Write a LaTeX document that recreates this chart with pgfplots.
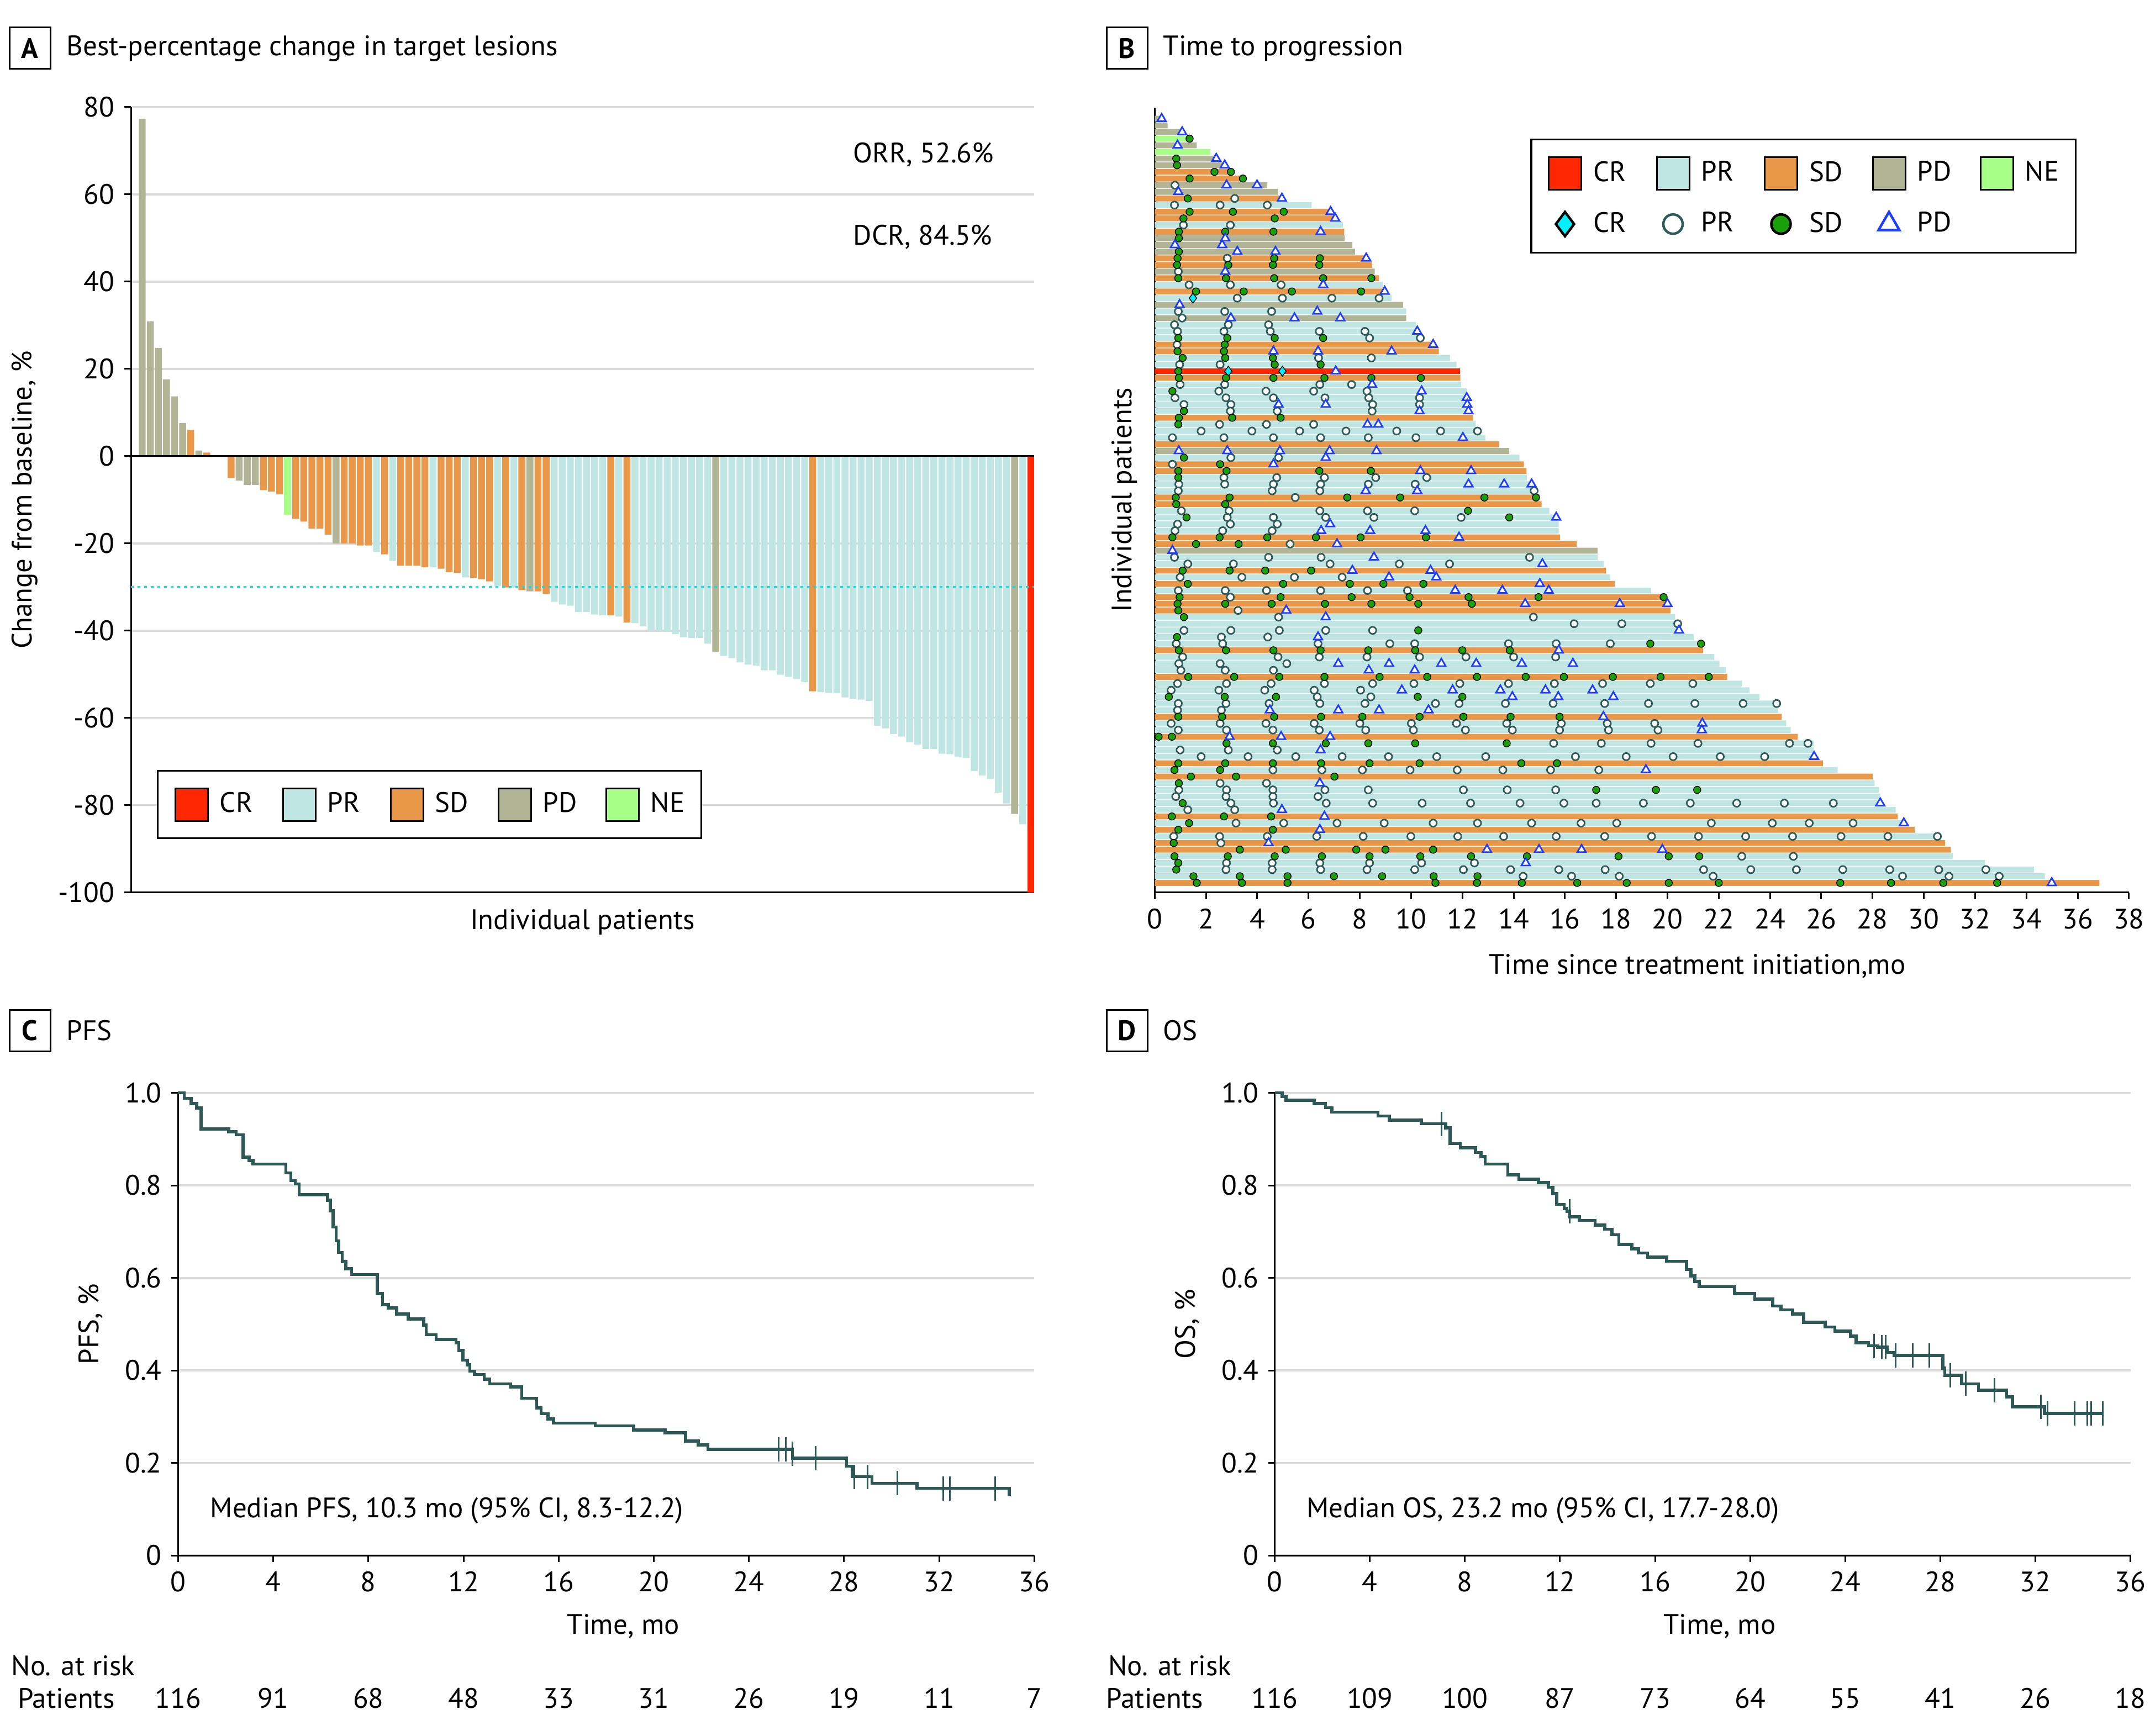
\documentclass[border=0pt]{standalone}
\usepackage{fontspec}
\setmainfont{PT Sans}
\usepackage{pgfplots}
\pgfplotsset{compat=1.18}

\definecolor{crc}{RGB}{255,38,0}
\definecolor{prc}{RGB}{192,230,228}
\definecolor{sdc}{RGB}{232,152,72}
\definecolor{pdc}{RGB}{178,180,150}
\definecolor{nec}{RGB}{168,255,136}
\definecolor{gridc}{RGB}{217,217,217}
\definecolor{kmc}{RGB}{44,88,86}
\definecolor{prm}{RGB}{47,90,90}
\definecolor{sdm}{RGB}{26,160,10}
\definecolor{pdm}{RGB}{30,60,255}
\definecolor{crm}{RGB}{0,240,255}
\definecolor{refc}{RGB}{0,225,230}

\newcommand{\lgt}[1]{\makebox[13.3mm][l]{\hspace{2mm}#1}}

\pgfplotsset{
  base/.style={scale only axis, anchor=south west,
    /pgf/number format/assume math mode=true,
    axis line style={line width=0.3mm, black},
    tick style={line width=0.3mm, black},
    major tick length=1.2mm, tick align=outside,
    grid style={gridc, line width=0.35mm}},
  swatch/.style={legend image code/.code={
    \draw[##1, draw=black, line width=0.3mm] (0mm,-2.95mm) rectangle (5.9mm,2.95mm);}},
  markimg/.style={legend image code/.code={
    \path (0mm,0mm) (5.9mm,0mm);
    \draw[##1, mark size=#1, every mark/.append style={line width=0.45mm}] plot coordinates {(2.95mm,0mm)};}},
  abar/.style={ybar, bar width=0.85, bar shift=0pt, draw=none},
  bbar/.style={xbar, bar width=0.88, bar shift=0pt, draw=none},
}

\begin{document}
\fontsize{14.5}{17}\selectfont
\begin{tikzpicture}
\path[use as bounding box] (0,0) rectangle (389.2mm,314.2mm);

% panel headers
\node[draw, line width=0.3mm, minimum width=7.4mm, minimum height=7.5mm, inner sep=0pt, font=\bfseries] at (5.4mm,305.45mm) {A};
\node[anchor=west, inner sep=0pt] at (12.0mm,305.45mm) {Best-percentage change in target lesions};
\node[draw, line width=0.3mm, minimum width=7.4mm, minimum height=7.5mm, inner sep=0pt, font=\bfseries] at (204.0mm,305.45mm) {B};
\node[anchor=west, inner sep=0pt] at (210.5mm,305.45mm) {Time to progression};
\node[draw, line width=0.3mm, minimum width=7.4mm, minimum height=7.5mm, inner sep=0pt, font=\bfseries] at (5.4mm,127.6mm) {C};
\node[anchor=west, inner sep=0pt] at (12.0mm,127.6mm) {PFS};
\node[draw, line width=0.3mm, minimum width=7.4mm, minimum height=7.5mm, inner sep=0pt, font=\bfseries] at (204.0mm,127.6mm) {D};
\node[anchor=west, inner sep=0pt] at (210.5mm,127.6mm) {OS};

% ---------------- A: waterfall ----------------
\begin{axis}[base, at={(23.7mm,152.63mm)}, width=163.5mm, height=142.18mm,
  xmin=-0.4, xmax=111.42, ymin=-100, ymax=80,
  axis x line*=bottom, axis y line*=left,
  xtick=\empty, ytick={-100,-80,-60,-40,-20,0,20,40,60,80},
  yticklabels={-100,-80,-60,-40,-20,0,20,40,60,80},
  ymajorgrids,
  ylabel={Change from baseline, \%},
  ylabel style={at={(axis description cs:-0.1174,0.5)}, anchor=center},
  xlabel={Individual patients},
  xlabel style={at={(axis description cs:0.5,-0.038)}, anchor=center},
  legend columns=5, legend cell align=left,
  legend style={at={(axis description cs:0.029,0.068)}, anchor=south west,
    draw=black, line width=0.3mm, inner sep=3mm, nodes={inner sep=0pt}},
  clip=false]
\addplot[abar, fill=crc, swatch] coordinates {(111,-100)};
\addlegendentry{\lgt{CR}}
\addplot[abar, fill=prc, swatch] coordinates {
(30,-21.9) (32,-24.0) (37,-25.5) (41,-27.8) (45,-29.8) (47,-30.1) (52,-33.4) (53,-34.0)
(54,-34.3) (55,-35.7) (56,-35.7) (57,-36.3) (58,-36.5) (60,-36.8) (62,-38.3) (63,-39.0)
(64,-40.1) (65,-40.1) (66,-40.3) (67,-40.8) (68,-41.5) (69,-41.7) (70,-41.7) (71,-43.0)
(73,-45.8) (74,-46.3) (75,-47.3) (76,-47.8) (77,-48.0) (78,-49.1) (79,-49.1) (80,-50.1)
(81,-50.6) (82,-51.1) (83,-51.8) (85,-54.1) (86,-54.3) (87,-54.3) (88,-55.3) (89,-55.6)
(90,-55.8) (91,-56.1) (92,-61.8) (93,-62.4) (94,-63.7) (95,-64.3) (96,-65.6) (97,-66.1)
(98,-67.1) (99,-67.1) (100,-68.2) (101,-68.3) (102,-69.0) (103,-69.2) (104,-72.2)
(105,-73.2) (106,-74.0) (107,-77.1) (108,-79.6) (110,-84.4)};
\addlegendentry{\lgt{PR}}
\addplot[abar, fill=sdc, swatch] coordinates {
(7,6.0) (9,0.8) (12,-5.0) (16,-7.8) (17,-8.1) (18,-8.7) (20,-14.3) (21,-15.0) (22,-16.6)
(23,-16.6) (24,-18.0) (26,-20.0) (27,-20.0) (28,-20.5) (29,-20.5) (31,-22.5) (33,-25.1)
(34,-25.1) (35,-25.1) (36,-25.5) (38,-25.8) (39,-26.6) (40,-26.8) (42,-27.9) (43,-28.2)
(44,-28.7) (46,-30.1) (48,-30.7) (50,-31.0) (51,-31.6) (59,-36.5) (61,-38.1) (84,-53.9)};
\addlegendentry{\lgt{SD}}
\addplot[abar, fill=pdc, swatch] coordinates {
(1,77.3) (2,30.9) (3,24.8) (4,17.6) (5,13.7) (6,7.6) (8,1.3) (13,-5.6) (14,-6.6)
(15,-6.6) (25,-20.0) (49,-31.0) (72,-44.9) (109,-82.0)};
\addlegendentry{\lgt{PD}}
\addplot[abar, fill=nec, swatch] coordinates {(19,-13.4)};
\addlegendentry{\hspace{2mm}NE}
\addplot[black, line width=0.3mm, forget plot] coordinates {(-0.4,0) (111.42,0)};
\addplot[refc, line width=0.3mm, dash pattern=on 0.5mm off 0.7mm, forget plot] coordinates {(-0.4,-30) (111.42,-30)};
\node[anchor=west, inner sep=0pt] at (axis cs:89.0,69.1) {ORR, 52.6\%};
\node[anchor=west, inner sep=0pt] at (axis cs:89.0,50.2) {DCR, 84.5\%};
\end{axis}

% ---------------- B: swimmer plot ----------------
\begin{axis}[base, at={(209.03mm,152.63mm)}, width=176.35mm, height=142.07mm,
  xmin=0, xmax=38, ymin=-117.43, ymax=0.66,
  axis x line*=bottom, axis y line*=left,
  ytick=\empty, xtick={0,2,...,38},
  ylabel={Individual patients},
  ylabel style={at={(axis description cs:-0.0312,0.5)}, anchor=center},
  xlabel={Time since treatment initiation,mo},
  xlabel style={at={(axis description cs:0.557,-0.0943)}, anchor=center},
  legend columns=5, legend cell align=left,
  legend style={at={(axis description cs:0.3854,0.9606)}, anchor=north west,
    draw=black, line width=0.35mm, inner sep=3mm, row sep=3.9mm, nodes={inner sep=0pt}},
  clip=false]
\addplot[bbar, fill=crc, swatch] coordinates {(11.90,-39)};
\addlegendentry{\lgt{CR}}
\addplot[bbar, fill=prc, swatch] coordinates {
(6.12,-14) (7.34,-17) (8.90,-26) (9.24,-28) (9.81,-30) (10.19,-32) (10.31,-33) (10.48,-34)
(11.52,-37) (11.77,-38) (11.95,-41) (12.17,-42) (12.17,-43) (12.17,-44) (12.29,-45)
(12.52,-47) (12.71,-48) (12.89,-49) (14.23,-52) (14.52,-55) (14.65,-56) (14.77,-57)
(15.39,-60) (15.64,-61) (15.76,-62) (15.76,-63) (17.27,-67) (17.52,-68) (17.77,-70)
(19.36,-72) (20.30,-76) (20.40,-77) (20.47,-78) (21.02,-79) (21.34,-80) (21.83,-82)
(22.03,-83) (22.28,-84) (22.90,-86) (23.20,-87) (23.59,-88) (24.36,-89) (24.31,-90)
(24.63,-92) (24.81,-93) (25.70,-95) (25.70,-96) (25.75,-97) (26.64,-99) (28.08,-101)
(28.25,-102) (28.30,-103) (28.30,-104) (28.90,-105) (29.27,-107) (30.61,-109)
(31.13,-112) (32.39,-113) (34.30,-114) (34.72,-115)};
\addlegendentry{\lgt{PR}}
\addplot[bbar, fill=sdc, swatch] coordinates {
(3.02,-9) (3.52,-10) (5.03,-13) (6.89,-15) (7.14,-16) (7.39,-18) (8.28,-22) (8.48,-23)
(8.75,-25) (9.00,-27) (10.86,-35) (11.08,-36) (11.92,-40) (12.42,-46) (13.43,-50)
(14.40,-53) (14.50,-54) (15.02,-58) (15.09,-59) (15.81,-64) (16.46,-65) (17.60,-69)
(17.94,-71) (19.85,-73) (20.00,-74) (20.12,-75) (21.39,-81) (22.33,-85) (24.46,-91)
(25.08,-94) (26.07,-98) (28.00,-100) (28.97,-106) (29.64,-108) (30.83,-110)
(31.05,-111) (36.85,-116)};
\addlegendentry{\lgt{SD}}
\addplot[bbar, fill=pdc, swatch] coordinates {
(0.27,-1) (0.50,-2) (1.07,-3) (1.64,-5) (2.43,-7) (2.78,-8) (4.39,-11) (4.81,-12)
(7.41,-19) (7.71,-20) (7.81,-21) (8.58,-24) (9.69,-29) (9.81,-31) (13.83,-51) (17.27,-66)};
\addlegendentry{\lgt{PD}}
\addplot[bbar, fill=nec, swatch] coordinates {(1.31,-4) (2.16,-6)};
\addlegendentry{\hspace{2mm}NE}
% assessment markers
\addplot[only marks, mark=diamond*, mark size=0.9mm, mark options={draw=none, fill=crm}, markimg=2.2mm]
coordinates {(1.49,-28) (2.87,-39) (4.98,-39)};
\addlegendentry{\lgt{CR}}
\addplot[only marks, mark=*, mark size=0.65mm, mark options={draw=prm, fill=white, line width=0.28mm}, markimg=1.75mm]
coordinates {
(0.79,-11) (3.12,-13) (0.77,-14) (2.55,-14) (4.39,-14) (1.12,-17) (2.95,-17) (2.83,-22)
(0.92,-24) (1.34,-26) (2.95,-26) (4.93,-26) (3.22,-28) (4.98,-28) (6.91,-28) (8.75,-28)
(0.92,-30) (2.73,-30) (4.56,-30) (1.07,-31) (0.77,-32) (2.87,-32) (4.44,-32)
(0.89,-33) (2.70,-33) (4.51,-33) (6.42,-33) (8.20,-33) (8.38,-34) (10.36,-34) (0.87,-35)
(6.39,-37) (8.45,-37) (0.97,-38) (2.55,-38) (0.99,-41) (2.73,-41) (6.44,-41) (7.68,-41)
(2.50,-42) (4.34,-42) (6.20,-42) (8.28,-42) (0.79,-43) (2.78,-43) (4.63,-43) (6.64,-43)
(8.35,-43) (10.33,-43) (1.14,-44) (2.97,-44) (8.50,-44) (10.33,-44) (2.95,-45) (4.78,-45)
(8.48,-45) (2.53,-47) (4.36,-47) (6.20,-47) (1.81,-48) (3.79,-48) (5.65,-48) (7.46,-48)
(9.44,-48) (11.15,-48) (12.59,-48) (0.69,-49) (2.70,-49) (4.63,-49) (6.47,-49) (8.33,-49)
(10.19,-49) (2.97,-52) (4.83,-52) (0.69,-53) (2.70,-55) (4.76,-55) (6.62,-55) (8.62,-55)
(10.61,-55) (0.94,-56) (2.73,-56) (4.63,-56) (6.47,-56) (8.33,-56) (10.16,-56)
(0.92,-57) (4.58,-57) (6.44,-57) (14.80,-57) (5.48,-58) (1.04,-60) (2.90,-60) (6.44,-60)
(8.30,-60) (10.14,-60) (2.83,-61) (4.63,-61) (6.67,-61) (8.55,-61) (11.95,-61)
(0.89,-62) (2.95,-62) (4.78,-62) (0.79,-63) (2.65,-63) (4.58,-63) (5.28,-65)
(0.77,-67) (4.44,-67) (6.49,-67) (14.62,-67) (1.29,-68) (3.07,-68) (6.84,-68) (9.54,-68)
(11.50,-68) (0.99,-70) (3.40,-70) (5.45,-70) (7.31,-70) (0.92,-72) (2.75,-72) (4.36,-72)
(6.47,-72) (8.30,-72) (9.86,-72) (2.95,-73) (3.25,-75) (4.83,-76) (14.77,-76)
(16.36,-77) (18.22,-77) (20.40,-77) (1.14,-78) (2.97,-78) (4.86,-78) (6.67,-78) (8.50,-78)
(2.60,-79) (4.41,-79) (0.84,-80) (2.65,-80) (6.37,-80) (9.17,-80) (10.14,-80) (13.80,-80)
(15.66,-80) (17.77,-80) (1.09,-82) (4.81,-82) (6.42,-82) (8.28,-82) (10.33,-82)
(12.14,-82) (14.00,-82) (15.64,-82) (0.94,-83) (2.55,-83) (5.15,-83) (1.02,-84)
(2.75,-84) (4.63,-84) (0.89,-86) (2.80,-86) (4.54,-86) (6.62,-86) (8.50,-86) (10.11,-86)
(11.90,-86) (13.80,-86) (15.59,-86) (17.47,-86) (19.33,-86) (20.99,-86) (0.64,-87)
(2.50,-87) (4.29,-87) (6.22,-87) (8.03,-87) (6.34,-88) (8.43,-88) (0.92,-89) (2.78,-89)
(4.46,-89) (6.44,-89) (8.20,-89) (10.95,-89) (11.87,-89) (13.68,-89) (15.54,-89)
(17.55,-89) (19.26,-89) (21.07,-89) (22.95,-89) (24.26,-89) (0.89,-90) (2.60,-90)
(0.64,-92) (2.55,-92) (4.34,-92) (6.22,-92) (8.00,-92) (10.01,-92) (11.77,-92)
(13.73,-92) (15.86,-92) (17.65,-92) (19.50,-92) (0.92,-93) (2.80,-93) (4.61,-93)
(6.42,-93) (8.23,-93) (10.09,-93) (12.12,-93) (13.95,-93) (15.79,-93) (17.70,-93)
(19.63,-93) (15.56,-95) (17.42,-95) (19.36,-95) (21.19,-95) (24.76,-95) (25.48,-95)
(0.99,-96) (2.87,-96) (4.78,-96) (1.81,-97) (3.64,-97) (5.50,-97) (7.31,-97) (9.12,-97)
(11.00,-97) (12.91,-97) (16.41,-97) (18.39,-97) (20.22,-97) (22.06,-97) (23.79,-97)
(4.61,-99) (6.52,-99) (8.10,-99) (9.96,-99) (11.80,-99) (13.58,-99) (15.44,-99)
(17.32,-99) (2.55,-101) (4.36,-101) (0.94,-102) (2.80,-102) (4.61,-102) (6.64,-102)
(8.33,-102) (12.04,-102) (13.75,-102) (15.64,-102) (0.82,-103) (2.78,-103) (4.61,-103)
(6.37,-103) (2.97,-104) (4.63,-104) (6.69,-104) (8.50,-104) (10.43,-104) (12.32,-104)
(14.25,-104) (15.96,-104) (17.22,-104) (19.06,-104) (20.89,-104) (22.70,-104)
(24.56,-104) (26.47,-104) (1.29,-105) (3.12,-105) (3.17,-107) (5.03,-107) (7.11,-107)
(8.95,-107) (10.86,-107) (12.59,-107) (14.70,-107) (16.63,-107) (18.02,-107)
(21.71,-107) (24.09,-107) (25.53,-107) (27.24,-107) (0.74,-109) (2.53,-109) (4.39,-109)
(6.32,-109) (8.13,-109) (9.99,-109) (11.82,-109) (13.61,-109) (15.66,-109) (17.55,-109)
(19.38,-109) (21.21,-109) (23.05,-109) (24.88,-109) (26.77,-109) (28.60,-109)
(30.53,-109) (2.58,-110) (22.90,-112) (24.91,-112) (2.80,-113) (4.58,-113) (6.44,-113)
(8.38,-113) (10.41,-113) (12.47,-113) (2.78,-114) (4.58,-114) (6.47,-114) (8.28,-114)
(10.14,-114) (12.04,-114) (13.88,-114) (15.76,-114) (17.57,-114) (21.41,-114)
(23.25,-114) (25.03,-114) (26.84,-114) (28.67,-114) (30.58,-114) (32.42,-114)
(14.37,-115) (16.26,-115) (18.12,-115) (21.78,-115) (29.17,-115) (30.98,-115) (32.94,-115)};
\addlegendentry{\lgt{PR}}
\addplot[only marks, mark=*, mark size=0.65mm, mark options={draw=none, fill=sdm}, markimg=1.75mm]
coordinates {
(1.36,-4) (0.84,-7) (0.87,-8) (2.33,-9) (2.97,-9) (1.36,-10) (3.44,-10) (1.29,-13)
(1.36,-15) (3.05,-15) (5.03,-15) (1.12,-16) (4.68,-16) (0.94,-18) (2.75,-18) (4.63,-18)
(0.94,-19) (0.94,-21) (0.89,-22) (4.66,-22) (6.44,-22) (0.87,-23) (2.87,-23) (4.61,-23)
(6.42,-23) (0.92,-25) (2.78,-25) (4.66,-25) (6.57,-25) (8.45,-25) (1.61,-27) (3.47,-27)
(5.35,-27) (8.05,-27) (0.92,-34) (2.83,-34) (4.68,-34) (6.57,-34) (2.73,-35) (0.89,-36)
(2.70,-36) (1.09,-37) (2.75,-37) (4.61,-37) (4.68,-38) (6.47,-38) (0.92,-39) (0.94,-40)
(2.78,-40) (4.63,-40) (6.62,-40) (8.45,-40) (10.38,-40) (0.69,-42) (1.14,-45) (0.94,-46)
(3.02,-46) (4.91,-46) (0.92,-47) (1.14,-52) (2.55,-53) (0.92,-54) (2.80,-54) (6.42,-54)
(8.43,-54) (0.92,-55) (0.82,-58) (2.92,-58) (7.51,-58) (9.57,-58) (12.86,-58) (14.87,-58)
(0.84,-59) (2.75,-59) (12.22,-60) (1.24,-61) (13.83,-61) (0.69,-64) (2.53,-64) (4.39,-64)
(6.29,-64) (8.03,-64) (10.58,-64) (1.61,-65) (3.27,-65) (1.09,-69) (2.92,-69) (4.31,-69)
(6.10,-69) (1.29,-71) (5.01,-71) (7.61,-71) (8.92,-71) (10.48,-71) (0.97,-73) (4.91,-73)
(7.68,-73) (9.94,-73) (12.24,-73) (14.97,-73) (19.85,-73) (0.89,-74) (2.75,-74) (4.56,-74)
(6.64,-74) (8.45,-74) (10.28,-74) (12.37,-74) (0.92,-75) (1.14,-76) (10.28,-78) (0.87,-79)
(19.33,-80) (21.31,-80) (0.94,-81) (2.78,-81) (4.63,-81) (6.47,-81) (8.33,-81) (10.16,-81)
(12.00,-81) (13.85,-81) (1.31,-85) (3.10,-85) (4.86,-85) (6.62,-85) (8.77,-85) (10.63,-85)
(12.57,-85) (14.47,-85) (15.96,-85) (17.87,-85) (19.73,-85) (21.61,-85) (0.55,-88)
(2.73,-88) (4.73,-88) (10.26,-88) (12.00,-88) (0.92,-91) (2.63,-91) (4.66,-91) (6.49,-91)
(8.10,-91) (10.33,-91) (12.04,-91) (13.88,-91) (15.79,-91) (0.15,-94) (0.67,-94)
(2.80,-95) (4.61,-95) (6.67,-95) (8.33,-95) (10.16,-95) (13.73,-95) (0.92,-98) (2.75,-98)
(4.61,-98) (6.49,-98) (8.38,-98) (10.33,-98) (14.30,-98) (15.69,-98) (0.77,-99) (2.55,-99)
(1.41,-100) (3.17,-100) (7.01,-100) (0.94,-101) (17.22,-102) (19.55,-102) (21.16,-102)
(1.09,-104) (0.67,-106) (2.70,-106) (4.54,-106) (1.34,-107) (0.92,-108) (4.61,-108)
(0.74,-110) (3.32,-111) (5.11,-111) (7.86,-111) (9.00,-111) (10.86,-111) (0.77,-112)
(2.85,-112) (4.68,-112) (6.52,-112) (8.38,-112) (10.36,-112) (12.34,-112) (14.52,-112)
(18.09,-112) (20.05,-112) (21.24,-112) (0.92,-113) (0.84,-114) (1.51,-115) (3.32,-115)
(5.18,-115) (6.99,-115) (8.87,-115) (10.88,-115) (12.59,-115) (1.64,-116) (3.40,-116)
(5.18,-116) (10.95,-116) (12.57,-116) (14.32,-116) (16.48,-116) (18.41,-116) (20.05,-116)
(22.00,-116) (26.74,-116) (28.72,-116) (30.76,-116) (32.86,-116)};
\addlegendentry{\lgt{SD}}
\addplot[only marks, mark=triangle*, mark size=0.9mm, mark options={draw=pdm, fill=white, line width=0.28mm}, markimg=2.2mm]
coordinates {
(0.27,-1) (1.07,-3) (0.89,-5) (2.40,-7) (2.73,-8) (2.80,-11) (3.99,-11) (0.92,-12)
(4.96,-13) (6.86,-15) (7.04,-16) (6.47,-18) (2.75,-19) (0.79,-20) (2.63,-20) (3.22,-21)
(4.71,-21) (8.25,-22) (2.75,-24) (6.57,-26) (8.97,-27) (0.97,-29) (6.34,-30) (2.97,-31)
(5.45,-31) (7.24,-31) (10.24,-33) (10.86,-35) (4.63,-36) (6.37,-36) (9.24,-36) (7.06,-39)
(8.48,-41) (10.41,-42) (12.17,-43) (4.83,-44) (6.67,-44) (12.19,-44) (10.33,-45)
(12.24,-45) (8.30,-47) (8.72,-47) (12.02,-49) (0.94,-51) (2.83,-51) (4.88,-51) (6.82,-51)
(8.65,-51) (6.67,-52) (4.63,-53) (10.36,-54) (12.34,-54) (12.24,-56) (13.63,-56)
(14.70,-56) (8.23,-57) (10.24,-57) (15.66,-61) (6.84,-62) (6.49,-63) (8.40,-63)
(10.56,-63) (11.87,-64) (7.11,-65) (0.69,-66) (8.55,-67) (15.12,-68) (7.71,-69)
(10.76,-69) (9.14,-70) (10.98,-70) (15.02,-71) (11.72,-72) (13.56,-72) (15.37,-72)
(14.45,-74) (18.14,-74) (20.00,-74) (5.13,-75) (6.67,-76) (20.45,-78) (6.37,-79)
(15.76,-81) (7.16,-83) (9.14,-83) (11.18,-83) (12.54,-83) (14.32,-83) (16.31,-83)
(8.35,-84) (10.14,-84) (9.64,-87) (11.62,-87) (13.48,-87) (15.24,-87) (17.08,-87)
(13.95,-88) (15.74,-88) (17.89,-88) (4.49,-90) (7.16,-90) (8.75,-90) (10.68,-90)
(17.50,-91) (21.36,-92) (21.34,-93) (2.92,-94) (4.93,-94) (6.84,-94) (6.47,-96)
(25.72,-97) (19.16,-99) (6.44,-101) (28.30,-104) (4.96,-105) (6.62,-106) (29.22,-107)
(6.44,-108) (4.44,-110) (12.96,-111) (14.99,-111) (16.65,-111) (19.80,-111) (14.47,-113)
(34.99,-116)};
\addlegendentry{\lgt{PD}}
\end{axis}

% ---------------- C: PFS ----------------
\begin{axis}[base, at={(32.24mm,32.6mm)}, width=155mm, height=83.75mm,
  xmin=0, xmax=36, ymin=0, ymax=1,
  axis x line*=bottom, axis y line*=left,
  xtick={0,4,...,36}, ytick={0,0.2,0.4,0.6,0.8,1}, yticklabels={0,0.2,0.4,0.6,0.8,1.0},
  ymajorgrids,
  ylabel={PFS, \%},
  ylabel style={at={(axis description cs:-0.1019,0.5)}, anchor=center},
  xlabel={Time, mo},
  xlabel style={at={(axis description cs:0.52,-0.1528)}, anchor=center},
  clip=false]
\addplot[const plot, kmc, line width=0.55mm] coordinates {
(0,1.0) (0.26,0.988) (0.55,0.977) (0.78,0.967) (0.97,0.922) (2.13,0.916) (2.44,0.909)
(2.73,0.861) (2.99,0.854) (3.15,0.846) (4.53,0.827) (4.74,0.81) (4.93,0.803) (5.09,0.78)
(6.28,0.768) (6.40,0.745) (6.52,0.71) (6.64,0.68) (6.75,0.655) (6.90,0.635) (7.05,0.62)
(7.30,0.607) (8.37,0.566) (8.60,0.542) (8.84,0.535) (9.19,0.522) (9.67,0.511)
(10.33,0.498) (10.43,0.477) (10.85,0.467) (11.68,0.46) (11.80,0.443) (11.97,0.422)
(12.16,0.412) (12.27,0.398) (12.46,0.391) (12.87,0.381) (13.10,0.371) (13.98,0.364)
(14.45,0.34) (15.07,0.319) (15.26,0.306) (15.55,0.295) (15.78,0.286) (17.54,0.28)
(19.15,0.271) (20.47,0.265) (21.33,0.247) (21.87,0.239) (22.27,0.229) (25.83,0.21)
(28.10,0.193) (28.34,0.17) (29.17,0.156) (31.07,0.145) (34.95,0.128)};
\addplot[only marks, mark=|, mark size=2.2mm, kmc, mark options={line width=0.3mm}] coordinates {
(25.26,0.229) (25.55,0.229) (25.83,0.22) (26.80,0.21) (28.44,0.17) (28.98,0.17)
(30.24,0.156) (32.18,0.145) (32.46,0.145) (34.36,0.145)};
\node[anchor=west, inner sep=0pt] at (axis cs:1.34,0.097) {Median PFS, 10.3 mo (95\% CI, 8.3-12.2)};
\node[anchor=west, inner sep=0pt] at (axis cs:-7.02,-0.239) {No. at risk};
\node[anchor=east, inner sep=0pt] at (axis cs:-2.65,-0.309) {Patients};
\node at (axis cs:0,-0.309) {116};
\node at (axis cs:4,-0.309) {91};
\node at (axis cs:8,-0.309) {68};
\node at (axis cs:12,-0.309) {48};
\node at (axis cs:16,-0.309) {33};
\node at (axis cs:20,-0.309) {31};
\node at (axis cs:24,-0.309) {26};
\node at (axis cs:28,-0.309) {19};
\node at (axis cs:32,-0.309) {11};
\node at (axis cs:36,-0.309) {7};
\end{axis}

% ---------------- D: OS ----------------
\begin{axis}[base, at={(230.76mm,32.6mm)}, width=154.9mm, height=83.75mm,
  xmin=0, xmax=36, ymin=0, ymax=1,
  axis x line*=bottom, axis y line*=left,
  xtick={0,4,...,36}, ytick={0,0.2,0.4,0.6,0.8,1}, yticklabels={0,0.2,0.4,0.6,0.8,1.0},
  ymajorgrids,
  ylabel={OS, \%},
  ylabel style={at={(axis description cs:-0.1026,0.5)}, anchor=center},
  xlabel={Time, mo},
  xlabel style={at={(axis description cs:0.52,-0.1528)}, anchor=center},
  clip=false]
\addplot[const plot, kmc, line width=0.55mm] coordinates {
(0,1.0) (0.31,0.992) (0.47,0.984) (1.66,0.977) (2.14,0.968) (2.40,0.958) (4.34,0.95)
(4.82,0.941) (6.17,0.933) (7.19,0.924) (7.38,0.89) (7.81,0.881) (8.45,0.871) (8.68,0.862)
(8.85,0.846) (9.80,0.823) (10.27,0.813) (11.10,0.806) (11.51,0.796) (11.70,0.782)
(11.86,0.759) (12.17,0.75) (12.29,0.744) (12.41,0.732) (12.81,0.724) (13.48,0.714)
(13.88,0.705) (14.19,0.693) (14.47,0.672) (15.02,0.663) (15.30,0.654) (15.68,0.645)
(16.49,0.636) (17.32,0.618) (17.51,0.604) (17.67,0.592) (17.86,0.581) (19.34,0.566)
(20.19,0.554) (20.95,0.539) (21.30,0.531) (21.78,0.522) (22.25,0.504) (23.16,0.494)
(23.56,0.485) (24.22,0.474) (24.46,0.46) (24.98,0.453) (25.36,0.45) (25.77,0.439)
(26.05,0.432) (28.11,0.405) (28.19,0.389) (28.90,0.371) (29.61,0.357) (30.79,0.343)
(31.03,0.321) (32.38,0.307) (34.88,0.307)};
\addplot[only marks, mark=|, mark size=2.2mm, kmc, mark options={line width=0.3mm}] coordinates {
(7.02,0.933) (12.41,0.744) (25.22,0.453) (25.53,0.45) (25.70,0.45) (26.12,0.432)
(26.83,0.432) (27.54,0.432) (28.42,0.389) (29.06,0.371) (30.27,0.357) (32.22,0.321)
(32.50,0.307) (33.64,0.307) (34.19,0.307) (34.35,0.307) (34.83,0.307)};
\node[anchor=west, inner sep=0pt] at (axis cs:1.33,0.097) {Median OS, 23.2 mo (95\% CI, 17.7-28.0)};
\node[anchor=west, inner sep=0pt] at (axis cs:-7.02,-0.239) {No. at risk};
\node[anchor=east, inner sep=0pt] at (axis cs:-2.99,-0.309) {Patients};
\node at (axis cs:0,-0.309) {116};
\node at (axis cs:4,-0.309) {109};
\node at (axis cs:8,-0.309) {100};
\node at (axis cs:12,-0.309) {87};
\node at (axis cs:16,-0.309) {73};
\node at (axis cs:20,-0.309) {64};
\node at (axis cs:24,-0.309) {55};
\node at (axis cs:28,-0.309) {41};
\node at (axis cs:32,-0.309) {26};
\node at (axis cs:36,-0.309) {18};
\end{axis}
\end{tikzpicture}
\end{document}
